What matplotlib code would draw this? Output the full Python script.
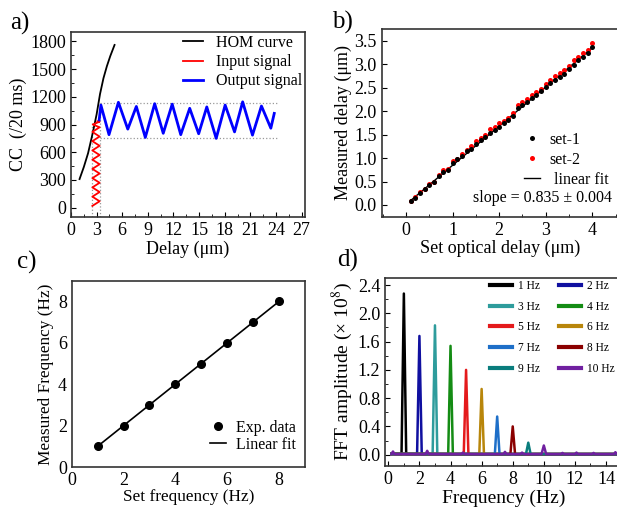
import numpy as np
import matplotlib
matplotlib.use("Agg")
import matplotlib.pyplot as plt
from matplotlib.ticker import MultipleLocator, FormatStrFormatter

# ---- panel a: HOM curve, input and output signals ----
hom_x = [1.0, 1.5, 2.0, 2.5, 3.0, 3.4, 3.8, 4.2, 4.6, 5.1]
hom_y = [310, 440, 590, 790, 1010, 1230, 1400, 1530, 1640, 1760]
inp_x = [2.5, 3.35, 2.5, 3.35, 2.5, 3.35, 2.5, 3.35, 2.5, 3.35,
         2.5, 3.35, 2.5, 3.35, 2.5, 3.35, 2.5, 3.35, 2.55, 3.35, 3.1]
inp_y = [20, 70, 120, 170, 220, 270, 320, 370, 420, 470,
         520, 570, 620, 670, 720, 770, 820, 870, 900, 930, 935]
out_x = [3.3, 3.5, 4.45, 5.55, 6.65, 7.65, 8.7, 9.8, 10.8, 11.85, 12.85,
         13.9, 14.95, 15.9, 17.0, 18.05, 19.15, 20.1, 21.25, 22.3, 23.4, 23.8]
out_y = [950, 1110, 790, 1140, 850, 1095, 760, 1125, 805, 1120, 790,
         1075, 800, 1090, 750, 1110, 820, 1145, 785, 1100, 860, 1020]
out_hi, out_lo = 1135, 752
in_left, in_right = 2.42, 3.42
ref_end = 24.2

# ---- panel b: measured vs set optical delay ----
set_delay = [0.1, 0.2, 0.3, 0.4, 0.5, 0.6, 0.7, 0.8, 0.9, 1.0,
             1.1, 1.2, 1.3, 1.4, 1.5, 1.6, 1.7, 1.8, 1.9, 2.0,
             2.1, 2.2, 2.3, 2.4, 2.5, 2.6, 2.7, 2.8, 2.9, 3.0,
             3.1, 3.2, 3.3, 3.4, 3.5, 3.6, 3.7, 3.8, 3.9, 4.0]
set1 = [0.09, 0.15, 0.26, 0.33, 0.42, 0.48, 0.62, 0.71, 0.75, 0.90,
        0.97, 1.05, 1.14, 1.20, 1.30, 1.38, 1.44, 1.53, 1.60, 1.67,
        1.74, 1.82, 1.90, 2.06, 2.14, 2.19, 2.27, 2.35, 2.42, 2.51,
        2.59, 2.66, 2.73, 2.80, 2.89, 2.99, 3.08, 3.16, 3.24, 3.36]
set2 = [0.09, 0.16, 0.27, 0.34, 0.44, 0.50, 0.64, 0.74, 0.76, 0.94,
        0.99, 1.09, 1.18, 1.25, 1.36, 1.42, 1.50, 1.62, 1.67, 1.74,
        1.79, 1.86, 1.96, 2.14, 2.20, 2.26, 2.34, 2.41, 2.48, 2.57,
        2.66, 2.75, 2.81, 2.88, 2.97, 3.08, 3.16, 3.23, 3.30, 3.45]
slope, intercept = 0.835, 0.01

# ---- panel c: measured vs set frequency ----
set_freq = [1, 2, 3, 4, 5, 6, 7, 8]
meas_freq = [1, 2, 3, 4, 5, 6, 7, 8]

# ---- panel d: FFT spectra ----
fft_labels = ['1 Hz', '2 Hz', '3 Hz', '4 Hz', '5 Hz', '6 Hz', '7 Hz', '8 Hz', '9 Hz', '10 Hz']
fft_freq = [1, 2, 3, 4, 5, 6, 7, 8, 9, 10]
fft_peak = [2.28, 1.68, 1.83, 1.54, 1.20, 0.93, 0.54, 0.40, 0.17, 0.13]
fft_colors = ['#000000', '#1010a0', '#2e9c9c', '#148c14', '#e41a1c',
              '#b8860b', '#1e6fc8', '#8b0000', '#0a7d7d', '#7020a0']
# small baseline bumps of the spectra (freq, amplitude)
bump_f = [0.3, 2.5, 4.8, 7.5, 8.6, 11.2, 12.1, 13.2, 14.6]
bump_a = [0.045, 0.055, 0.03, 0.04, 0.03, 0.025, 0.03, 0.025, 0.035]

plt.rcParams.update({"font.family": "Liberation Serif", "mathtext.fontset": "stix",
                     "font.size": 13, "axes.linewidth": 1.2, "axes.edgecolor": "#333333",
                     "xtick.direction": "in", "ytick.direction": "in",
                     "xtick.major.size": 3.5, "ytick.major.size": 3.5,
                     "xtick.minor.size": 2, "ytick.minor.size": 2})
W, H = 617, 508
fig = plt.figure(figsize=(W / 100, H / 100), dpi=100)


def px_axes(l, t, r, b):
    return fig.add_axes([l / W, 1 - b / H, (r - l) / W, (b - t) / H])


def px_legend(ax, handles, labels, x, y, **kw):
    return ax.legend(handles, labels, loc='upper left', bbox_to_anchor=(x / W, 1 - y / H),
                     bbox_transform=fig.transFigure, frameon=False, borderpad=0,
                     borderaxespad=0, **kw)


# a)
ax = px_axes(71, 32, 305, 217)
gcol = '0.6'
ax.plot([in_left, in_left], [-100, 930], ':', color=gcol, lw=0.9)
ax.plot([in_right, in_right], [-100, out_hi], ':', color=gcol, lw=0.9)
ax.plot([in_right, ref_end], [out_hi, out_hi], ':', color=gcol, lw=0.9)
ax.plot([in_right, ref_end], [out_lo, out_lo], ':', color=gcol, lw=0.9)
ax.plot(hom_x, hom_y, color='k', lw=1.3, label='HOM curve')
ax.plot(inp_x, inp_y, color='#ff0000', lw=1.3, label='Input signal')
ax.plot(out_x, out_y, color='#0000ff', lw=2.0, label='Output signal')
ax.set_xlim(0, 27.4); ax.set_ylim(-100, 1900)
ax.xaxis.set_major_locator(MultipleLocator(3)); ax.xaxis.set_minor_locator(MultipleLocator(1.5))
ax.yaxis.set_major_locator(MultipleLocator(300)); ax.yaxis.set_minor_locator(MultipleLocator(150))
ax.set_xlabel('Delay (μm)', fontsize=13, labelpad=1)
ax.set_ylabel('CC  (/20 ms)', fontsize=13, labelpad=2)
h, l = ax.get_legend_handles_labels()
px_legend(ax, h, l, 183, 35, fontsize=11.5, handlelength=1.25, handletextpad=0.8,
          labelspacing=0.2)

# b)
ax = px_axes(381.7, 29, 618.5, 216.7)
ax.plot(set_delay, set2, 'o', color='#ff0000', ms=3.6, mec='none', label='set-2', zorder=3)
ax.plot(set_delay, set1, 'o', color='k', ms=3.6, mec='none', label='set-1', zorder=4)
fx = np.array([set_delay[0], set_delay[-1]])
ax.plot(fx, slope * fx + intercept, color='k', lw=1.0, label=' linear fit', zorder=2)
ax.set_xlim(-0.52, 4.56); ax.set_ylim(-0.25, 3.75)
ax.xaxis.set_major_locator(MultipleLocator(1)); ax.xaxis.set_minor_locator(MultipleLocator(0.5))
ax.yaxis.set_major_locator(MultipleLocator(0.5))
ax.yaxis.set_major_formatter(FormatStrFormatter('%.1f'))
ax.set_xlabel('Set optical delay (μm)', fontsize=13, labelpad=1)
ax.set_ylabel('Measured delay (μm)', fontsize=13, labelpad=2)
h, l = ax.get_legend_handles_labels()
px_legend(ax, [h[1], h[0], h[2]], [l[1], l[0], l[2]], 524, 132, fontsize=11.5,
          handlelength=1.0, handletextpad=0.6, labelspacing=0.25)
fig.text(612 / W, 1 - 198 / H, f'slope = {slope:.3f} ± 0.004', ha='right', va='center',
         fontsize=11.5)

# c)
ax = px_axes(71.7, 280.7, 305, 467)
ax.plot(set_freq, meas_freq, color='k', lw=1.2, label='Linear fit', zorder=2)
ax.plot(set_freq, meas_freq, 'o', color='k', ms=5.5, label='Exp. data', zorder=3)
ax.set_xlim(0, 9); ax.set_ylim(0, 9)
ax.xaxis.set_major_locator(MultipleLocator(2)); ax.yaxis.set_major_locator(MultipleLocator(2))
ax.tick_params(length=0)
ax.set_xlabel('Set frequency (Hz)', fontsize=12.4, labelpad=0)
ax.set_ylabel('Measured Frequency (Hz)', fontsize=12.4, labelpad=3)
h, l = ax.get_legend_handles_labels()
px_legend(ax, [h[1], h[0]], [l[1], l[0]], 210, 420, fontsize=11.5,
          handlelength=1.0, handletextpad=0.6, labelspacing=0.05)

# d)
ax = px_axes(385.2, 278, 621.6, 466)
hw = 0.15
for i, (f, a, c, lab) in enumerate(zip(fft_freq, fft_peak, fft_colors, fft_labels)):
    xs = [0.2, f - hw, f, f + hw, 14.95]
    ys = [0.01, 0.008, a, 0.008, 0.008]
    if i == len(fft_freq) - 1:
        pts = sorted(list(zip(xs, ys)) + [(bf - 0.1, 0.008) for bf in bump_f] +
                     list(zip(bump_f, bump_a)) + [(bf + 0.1, 0.008) for bf in bump_f])
        xs, ys = zip(*pts)
    ax.plot(xs, ys, color=c, lw=1.8, label=lab)
ax.set_xlim(-0.2, 15); ax.set_ylim(-0.16, 2.5)
ax.xaxis.set_major_locator(MultipleLocator(2)); ax.xaxis.set_minor_locator(MultipleLocator(1))
ax.yaxis.set_major_locator(MultipleLocator(0.4)); ax.yaxis.set_minor_locator(MultipleLocator(0.2))
ax.yaxis.set_major_formatter(FormatStrFormatter('%.1f'))
ax.set_xlabel('Frequency (Hz)', fontsize=14, labelpad=1)
ax.set_ylabel('FFT amplitude (× 10$^8$)', fontsize=14, labelpad=2)
h, l = ax.get_legend_handles_labels()
order = [0, 2, 4, 6, 8, 1, 3, 5, 7, 9]
leg = px_legend(ax, [h[k] for k in order], [l[k] for k in order], 490, 280, ncol=2,
                fontsize=8.3, handlelength=1.9, handletextpad=0.5, columnspacing=1.7,
                labelspacing=0.75)
for ln in leg.get_lines():
    ln.set_linewidth(3)

for txt, x, y in [('a)', 10, 23), ('b)', 332, 22), ('c)', 17, 262), ('d)', 337, 260)]:
    fig.text(x / W, 1 - y / H, txt, fontsize=18, va='center', ha='left')

fig.savefig('out.png', dpi=100)
